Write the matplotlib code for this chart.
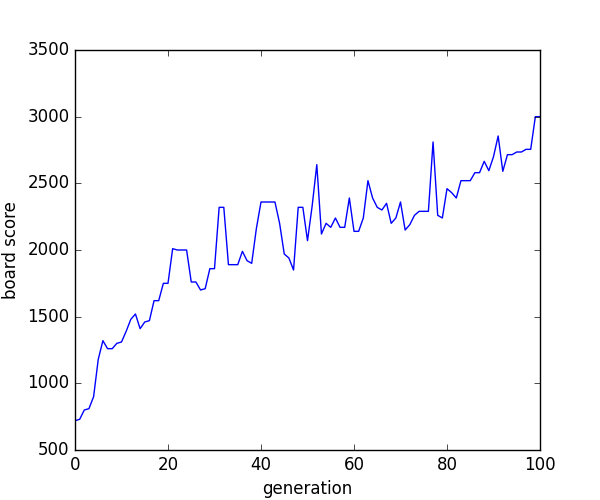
import matplotlib
matplotlib.use("Agg")
import matplotlib.pyplot as plt
import numpy as np

plt.style.use("classic")

generation = np.arange(101)
board_score = [
    720, 730, 800, 810, 900, 1180, 1320, 1260, 1260, 1300,
    1310, 1390, 1480, 1520, 1410, 1460, 1470, 1620, 1620, 1750,
    1750, 2010, 2000, 2000, 2000, 1760, 1760, 1700, 1710, 1860,
    1860, 2320, 2320, 1890, 1890, 1890, 1990, 1920, 1900, 2160,
    2360, 2360, 2360, 2360, 2200, 1970, 1940, 1850, 2320, 2320,
    2070, 2330, 2640, 2120, 2200, 2170, 2240, 2170, 2170, 2390,
    2140, 2140, 2240, 2520, 2390, 2320, 2300, 2350, 2200, 2240,
    2360, 2150, 2190, 2260, 2290, 2290, 2290, 2810, 2260, 2240,
    2460, 2430, 2390, 2520, 2520, 2520, 2580, 2580, 2665, 2595,
    2700, 2855, 2590, 2715, 2715, 2735, 2735, 2755, 2755, 3000,
    3000,
]

fig, ax = plt.subplots(figsize=(6, 5), dpi=100)
ax.plot(generation, board_score, color="b", linewidth=1)
ax.set_xlim(0, 100)
ax.set_ylim(500, 3500)
ax.set_xlabel("generation")
ax.set_ylabel("board score")
fig.savefig("out.png", dpi=100)
